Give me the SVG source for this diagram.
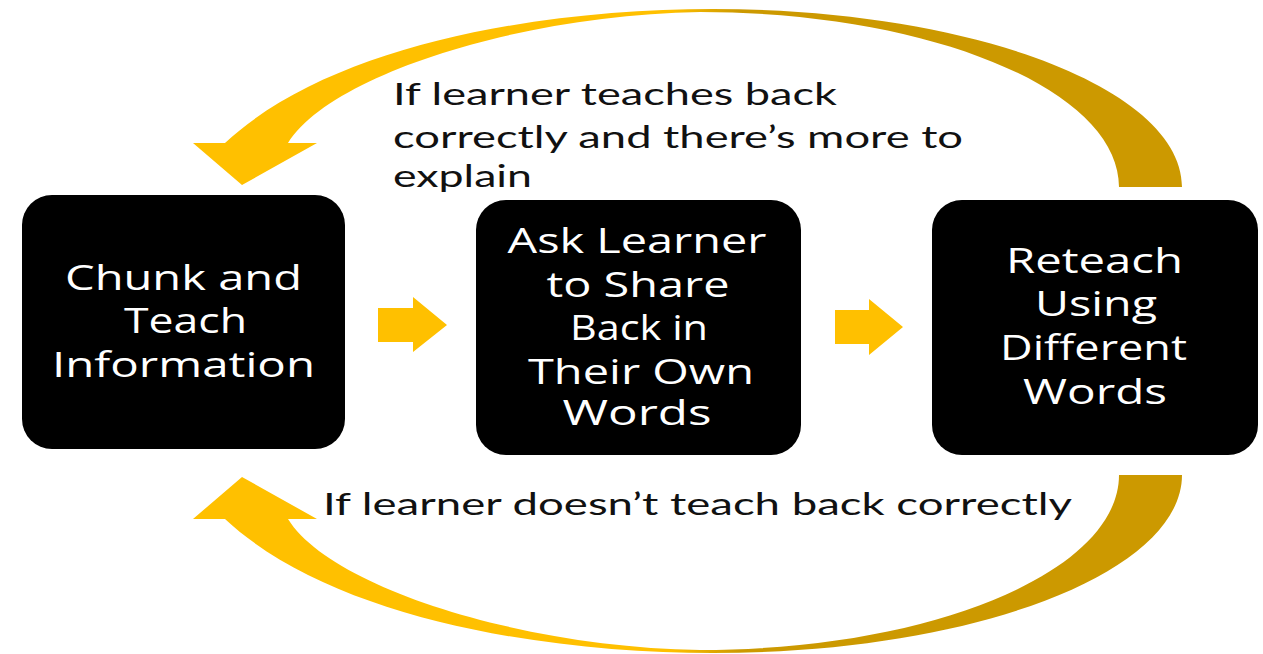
<svg xmlns="http://www.w3.org/2000/svg" width="1263" height="654" viewBox="0 0 1263 654">
  <defs>
    <linearGradient id="curveGrad" gradientUnits="userSpaceOnUse" x1="670" y1="0" x2="740" y2="0">
      <stop offset="0" stop-color="#FFC000"/>
      <stop offset="1" stop-color="#CC9900"/>
    </linearGradient>
    <style>
      .box { fill: #000000; }
      .boxText { fill: #ffffff; font-family: "Open Sans", "DejaVu Sans", sans-serif; font-size: 34px; text-anchor: middle; }
      .label { fill: #111111; font-family: Lato, "Liberation Sans", sans-serif; font-size: 31px; }
      .curve { fill: url(#curveGrad); }
      .step { fill: #FFC000; }
    </style>
  </defs>

  <rect width="1263" height="654" fill="#ffffff"/>

  <g id="connectors">
    <path id="loop-top" class="curve" d="M 1182 187 C 1182 88.7 972 9 713 9 C 540 9 330 45 225 143 L 193 143 L 242 185 L 317 143 L 288 143 C 330 75 520 15 700 12 C 931.4 12 1119 90.3 1119 187 Z"/>
    <path id="loop-bottom" class="curve" d="M 1182 475 C 1182 573.3 972 653 713 653 C 540 653 330 617 225 519 L 193 519 L 242 477 L 317 519 L 288 519 C 330 587 520 647 700 650 C 931.4 650 1119 571.7 1119 475 Z"/>
    <path id="step-1" class="step" d="M 378 308 L 413 308 L 413 297 L 447 325 L 413 352 L 413 342 L 378 342 Z"/>
    <path id="step-2" class="step" d="M 835 310 L 869 310 L 869 299 L 903 327 L 869 355 L 869 344 L 835 344 Z"/>
    <text class="label" x="393" y="105" textLength="444" lengthAdjust="spacingAndGlyphs">If learner teaches back</text>
    <text class="label" x="393" y="148" textLength="570" lengthAdjust="spacingAndGlyphs">correctly and there’s more to</text>
    <text class="label" x="393" y="187" textLength="139" lengthAdjust="spacingAndGlyphs">explain</text>
    <text class="label" x="323" y="515" textLength="749" lengthAdjust="spacingAndGlyphs">If learner doesn’t teach back correctly</text>
  </g>

  <g id="node-chunk">
    <rect class="box" x="22" y="195" width="323" height="254" rx="30" ry="30"/>
    <text class="boxText" x="183.5" y="290" textLength="237" lengthAdjust="spacingAndGlyphs">Chunk and</text>
    <text class="boxText" x="185.5" y="333" textLength="123" lengthAdjust="spacingAndGlyphs">Teach</text>
    <text class="boxText" x="183.5" y="377" textLength="263" lengthAdjust="spacingAndGlyphs">Information</text>
  </g>

  <g id="node-ask">
    <rect class="box" x="476" y="200" width="325" height="255" rx="30" ry="30"/>
    <text class="boxText" x="637" y="252.5" textLength="259" lengthAdjust="spacingAndGlyphs">Ask Learner</text>
    <text class="boxText" x="638" y="296.5" textLength="183" lengthAdjust="spacingAndGlyphs">to Share</text>
    <text class="boxText" x="639" y="340" textLength="138" lengthAdjust="spacingAndGlyphs">Back in</text>
    <text class="boxText" x="641" y="383.5" textLength="226" lengthAdjust="spacingAndGlyphs">Their Own</text>
    <text class="boxText" x="637" y="425" textLength="149" lengthAdjust="spacingAndGlyphs">Words</text>
  </g>

  <g id="node-reteach">
    <rect class="box" x="932" y="200" width="326" height="255" rx="30" ry="30"/>
    <text class="boxText" x="1094.5" y="272.5" textLength="177" lengthAdjust="spacingAndGlyphs">Reteach</text>
    <text class="boxText" x="1096" y="316" textLength="122" lengthAdjust="spacingAndGlyphs">Using</text>
    <text class="boxText" x="1093.5" y="360" textLength="187" lengthAdjust="spacingAndGlyphs">Different</text>
    <text class="boxText" x="1095" y="403.5" textLength="144" lengthAdjust="spacingAndGlyphs">Words</text>
  </g>
</svg>
